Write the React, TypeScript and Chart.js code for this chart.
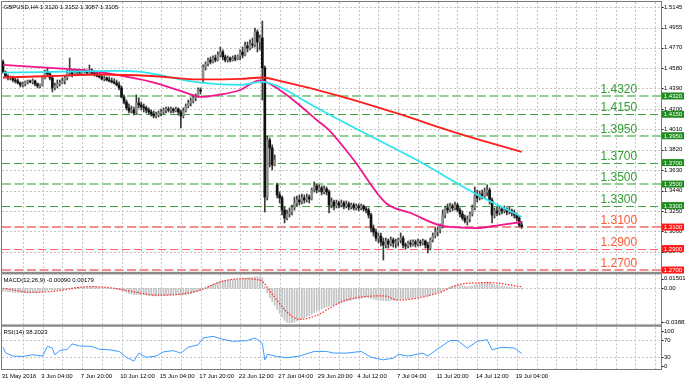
import { useEffect, useRef } from 'react';
import { Chart, registerables } from 'chart.js';
Chart.register(...registerables);

// ---------------- DATA ----------------
const chartTitle = 'GBPUSD,H4 1.3120 1.3152 1.3087 1.3105';
const macdTitle = 'MACD(12,26,9) -0.00090 0.00179';
const rsiTitle = 'RSI(14) 38.2023';

const barOpen = [
  1.4637, 1.4544, 1.4506, 1.4488, 1.4497, 1.4469, 1.4460, 1.4441, 1.4423, 1.4432, 1.4451, 1.4460, 1.4451, 1.4460, 1.4432, 1.4413,
  1.4423, 1.4488, 1.4544, 1.4525, 1.4488, 1.4395, 1.4413, 1.4432, 1.4441, 1.4460, 1.4488, 1.4534, 1.4544, 1.4525, 1.4553, 1.4544,
  1.4534, 1.4544, 1.4553, 1.4534, 1.4562, 1.4534, 1.4525, 1.4506, 1.4497, 1.4479, 1.4488, 1.4469, 1.4460, 1.4451, 1.4441, 1.4423,
  1.4395, 1.4311, 1.4264, 1.4209, 1.4181, 1.4190, 1.4162, 1.4255, 1.4237, 1.4218, 1.4209, 1.4190, 1.4171, 1.4153, 1.4134, 1.4143,
  1.4162, 1.4171, 1.4190, 1.4199, 1.4190, 1.4199, 1.4181, 1.4199, 1.4171, 1.4134, 1.4181, 1.4227, 1.4255, 1.4274, 1.4302, 1.4320,
  1.4376, 1.4469, 1.4590, 1.4618, 1.4655, 1.4637, 1.4674, 1.4655, 1.4702, 1.4730, 1.4683, 1.4655, 1.4674, 1.4655, 1.4674, 1.4665,
  1.4693, 1.4730, 1.4702, 1.4786, 1.4767, 1.4804, 1.4795, 1.4916, 1.4823, 1.4860, 1.4581, 1.3380, 1.3911, 1.3836, 1.3678, 1.3492,
  1.3399, 1.3371, 1.3259, 1.3184, 1.3222, 1.3240, 1.3278, 1.3324, 1.3352, 1.3333, 1.3371, 1.3352, 1.3380, 1.3361, 1.3445, 1.3483,
  1.3445, 1.3464, 1.3427, 1.3455, 1.3427, 1.3305, 1.3333, 1.3296, 1.3324, 1.3305, 1.3324, 1.3296, 1.3315, 1.3287, 1.3305, 1.3278,
  1.3296, 1.3278, 1.3296, 1.3268, 1.3259, 1.3212, 1.3091, 1.3054, 1.2998, 1.3017, 1.2961, 1.2933, 1.2970, 1.2942, 1.2980, 1.2952,
  1.2961, 1.2980, 1.2998, 1.2933, 1.2924, 1.2952, 1.2942, 1.2961, 1.2942, 1.2961, 1.2952, 1.2970, 1.2933, 1.2905, 1.2980, 1.3017,
  1.3054, 1.3073, 1.3110, 1.3212, 1.3278, 1.3259, 1.3296, 1.3278, 1.3305, 1.3259, 1.3222, 1.3184, 1.3156, 1.3175, 1.3222, 1.3278,
  1.3389, 1.3371, 1.3408, 1.3389, 1.3427, 1.3445, 1.3352, 1.3212, 1.3250, 1.3231, 1.3268, 1.3250, 1.3259, 1.3240, 1.3250, 1.3231,
  1.3212, 1.3184, 1.3120,
];
const barHigh = [
  1.4655, 1.4553, 1.4516, 1.4506, 1.4506, 1.4488, 1.4479, 1.4451, 1.4451, 1.4460, 1.4469, 1.4469, 1.4479, 1.4469, 1.4441, 1.4432,
  1.4506, 1.4562, 1.4581, 1.4544, 1.4506, 1.4441, 1.4469, 1.4469, 1.4488, 1.4506, 1.4562, 1.4674, 1.4562, 1.4572, 1.4562, 1.4562,
  1.4562, 1.4572, 1.4562, 1.4609, 1.4572, 1.4553, 1.4544, 1.4534, 1.4516, 1.4506, 1.4497, 1.4497, 1.4488, 1.4479, 1.4469, 1.4451,
  1.4413, 1.4330, 1.4283, 1.4246, 1.4227, 1.4218, 1.4330, 1.4302, 1.4264, 1.4246, 1.4227, 1.4209, 1.4190, 1.4181, 1.4171, 1.4181,
  1.4199, 1.4209, 1.4218, 1.4218, 1.4218, 1.4209, 1.4218, 1.4209, 1.4190, 1.4209, 1.4246, 1.4283, 1.4302, 1.4330, 1.4339, 1.4395,
  1.4395, 1.4609, 1.4637, 1.4674, 1.4683, 1.4693, 1.4702, 1.4730, 1.4776, 1.4749, 1.4702, 1.4693, 1.4683, 1.4693, 1.4702, 1.4702,
  1.4749, 1.4776, 1.4823, 1.4823, 1.4842, 1.4860, 1.4953, 1.4935, 1.4888, 1.5018, 1.4600, 1.3948, 1.3929, 1.3864, 1.3771, 1.3510,
  1.3427, 1.3389, 1.3287, 1.3259, 1.3278, 1.3305, 1.3380, 1.3389, 1.3399, 1.3408, 1.3399, 1.3408, 1.3399, 1.3464, 1.3520, 1.3501,
  1.3492, 1.3483, 1.3483, 1.3473, 1.3445, 1.3371, 1.3352, 1.3352, 1.3343, 1.3352, 1.3343, 1.3343, 1.3333, 1.3324, 1.3324, 1.3315,
  1.3315, 1.3315, 1.3305, 1.3287, 1.3278, 1.3231, 1.3119, 1.3082, 1.3045, 1.3045, 1.2998, 1.2998, 1.2989, 1.3008, 1.2998, 1.2989,
  1.2998, 1.3045, 1.3017, 1.2952, 1.2970, 1.2980, 1.2980, 1.2980, 1.2989, 1.2980, 1.2989, 1.2980, 1.2961, 1.2998, 1.3045, 1.3091,
  1.3101, 1.3129, 1.3259, 1.3296, 1.3315, 1.3324, 1.3315, 1.3333, 1.3324, 1.3278, 1.3250, 1.3212, 1.3203, 1.3240, 1.3305, 1.3473,
  1.3445, 1.3436, 1.3445, 1.3464, 1.3492, 1.3464, 1.3371, 1.3278, 1.3287, 1.3296, 1.3287, 1.3296, 1.3278, 1.3287, 1.3268, 1.3259,
  1.3231, 1.3203, 1.3152,
];
const barLow = [
  1.4534, 1.4497, 1.4469, 1.4469, 1.4451, 1.4441, 1.4432, 1.4404, 1.4404, 1.4413, 1.4432, 1.4441, 1.4432, 1.4413, 1.4395, 1.4395,
  1.4413, 1.4479, 1.4506, 1.4469, 1.4358, 1.4376, 1.4395, 1.4413, 1.4432, 1.4432, 1.4469, 1.4506, 1.4497, 1.4516, 1.4525, 1.4516,
  1.4525, 1.4534, 1.4516, 1.4525, 1.4516, 1.4506, 1.4497, 1.4488, 1.4469, 1.4460, 1.4460, 1.4451, 1.4441, 1.4432, 1.4413, 1.4376,
  1.4302, 1.4246, 1.4190, 1.4162, 1.4162, 1.4143, 1.4153, 1.4209, 1.4190, 1.4171, 1.4162, 1.4153, 1.4134, 1.4116, 1.4116, 1.4125,
  1.4134, 1.4153, 1.4162, 1.4171, 1.4162, 1.4162, 1.4171, 1.4143, 1.4022, 1.4116, 1.4171, 1.4209, 1.4227, 1.4255, 1.4274, 1.4311,
  1.4339, 1.4451, 1.4562, 1.4600, 1.4618, 1.4627, 1.4637, 1.4646, 1.4683, 1.4655, 1.4637, 1.4637, 1.4637, 1.4646, 1.4646, 1.4655,
  1.4655, 1.4674, 1.4693, 1.4730, 1.4749, 1.4767, 1.4776, 1.4730, 1.4749, 1.4283, 1.3240, 1.3352, 1.3659, 1.3631, 1.3669, 1.3371,
  1.3324, 1.3212, 1.3138, 1.3166, 1.3194, 1.3212, 1.3259, 1.3296, 1.3305, 1.3315, 1.3324, 1.3333, 1.3324, 1.3352, 1.3427, 1.3417,
  1.3427, 1.3399, 1.3408, 1.3399, 1.3231, 1.3278, 1.3259, 1.3278, 1.3278, 1.3287, 1.3268, 1.3278, 1.3259, 1.3268, 1.3259, 1.3259,
  1.3250, 1.3259, 1.3250, 1.3231, 1.3184, 1.3054, 1.3017, 1.2970, 1.2952, 1.2924, 1.2793, 1.2905, 1.2905, 1.2924, 1.2914, 1.2905,
  1.2924, 1.2952, 1.2905, 1.2896, 1.2905, 1.2914, 1.2924, 1.2914, 1.2924, 1.2924, 1.2933, 1.2905, 1.2859, 1.2887, 1.2961, 1.2998,
  1.3017, 1.3045, 1.3091, 1.3184, 1.3231, 1.3240, 1.3250, 1.3259, 1.3240, 1.3194, 1.3166, 1.3138, 1.3119, 1.3147, 1.3203, 1.3259,
  1.3333, 1.3352, 1.3361, 1.3371, 1.3389, 1.3315, 1.3138, 1.3184, 1.3203, 1.3212, 1.3222, 1.3231, 1.3212, 1.3222, 1.3203, 1.3184,
  1.3156, 1.3101, 1.3087,
];
const barClose = [
  1.4544, 1.4506, 1.4488, 1.4497, 1.4469, 1.4460, 1.4441, 1.4423, 1.4432, 1.4451, 1.4460, 1.4451, 1.4460, 1.4432, 1.4413, 1.4423,
  1.4488, 1.4544, 1.4525, 1.4488, 1.4395, 1.4413, 1.4432, 1.4441, 1.4460, 1.4488, 1.4534, 1.4544, 1.4525, 1.4553, 1.4544, 1.4534,
  1.4544, 1.4553, 1.4534, 1.4562, 1.4534, 1.4525, 1.4506, 1.4497, 1.4479, 1.4488, 1.4469, 1.4460, 1.4451, 1.4441, 1.4423, 1.4395,
  1.4311, 1.4264, 1.4209, 1.4181, 1.4190, 1.4162, 1.4255, 1.4237, 1.4218, 1.4209, 1.4190, 1.4171, 1.4153, 1.4134, 1.4143, 1.4162,
  1.4171, 1.4190, 1.4199, 1.4190, 1.4199, 1.4181, 1.4199, 1.4171, 1.4134, 1.4181, 1.4227, 1.4255, 1.4274, 1.4302, 1.4320, 1.4376,
  1.4367, 1.4590, 1.4618, 1.4655, 1.4637, 1.4674, 1.4655, 1.4702, 1.4730, 1.4683, 1.4655, 1.4674, 1.4655, 1.4674, 1.4665, 1.4693,
  1.4730, 1.4702, 1.4786, 1.4767, 1.4804, 1.4795, 1.4916, 1.4823, 1.4860, 1.4581, 1.3380, 1.3911, 1.3836, 1.3678, 1.3724, 1.3399,
  1.3371, 1.3259, 1.3184, 1.3222, 1.3240, 1.3278, 1.3324, 1.3352, 1.3333, 1.3371, 1.3352, 1.3380, 1.3361, 1.3445, 1.3483, 1.3445,
  1.3464, 1.3427, 1.3455, 1.3427, 1.3305, 1.3333, 1.3296, 1.3324, 1.3305, 1.3324, 1.3296, 1.3315, 1.3287, 1.3305, 1.3278, 1.3296,
  1.3278, 1.3296, 1.3268, 1.3259, 1.3212, 1.3091, 1.3054, 1.2998, 1.3017, 1.2961, 1.2933, 1.2970, 1.2942, 1.2980, 1.2952, 1.2961,
  1.2980, 1.2998, 1.2933, 1.2924, 1.2952, 1.2942, 1.2961, 1.2942, 1.2961, 1.2952, 1.2970, 1.2933, 1.2905, 1.2980, 1.3017, 1.3054,
  1.3073, 1.3110, 1.3212, 1.3278, 1.3259, 1.3296, 1.3278, 1.3305, 1.3259, 1.3222, 1.3184, 1.3156, 1.3175, 1.3222, 1.3278, 1.3389,
  1.3371, 1.3408, 1.3389, 1.3427, 1.3445, 1.3352, 1.3212, 1.3250, 1.3231, 1.3268, 1.3250, 1.3259, 1.3240, 1.3250, 1.3231, 1.3212,
  1.3184, 1.3119, 1.3105,
];

// moving averages (bar index, value)
const maRedBar = [0, 20, 40, 60, 80, 96, 105, 112, 136, 161, 180, 193, 210];
const maRedVal = [1.4492, 1.4506, 1.4520, 1.4506, 1.4474, 1.4479, 1.4492, 1.4460, 1.4322, 1.4148, 1.4002, 1.3911, 1.3799];
const maCyanBar = [0, 26, 46, 55, 80, 96, 105, 112, 125, 144, 169, 185, 193, 210];
const maCyanVal = [1.4537, 1.4546, 1.4553, 1.4546, 1.4444, 1.4423, 1.4451, 1.4404, 1.4237, 1.4003, 1.3706, 1.3492, 1.3390, 1.3194];
const maPinkBar = [0, 19, 32, 46, 60, 73, 80, 87, 96, 104, 112, 119, 127, 132, 142, 155, 165, 178, 192, 201, 210];
const maPinkVal = [1.4609, 1.4581, 1.4562, 1.4516, 1.4451, 1.4358, 1.4311, 1.4330, 1.4376, 1.4465, 1.4376, 1.4255, 1.4097, 1.4003, 1.3724, 1.3324, 1.3231, 1.3110, 1.3091, 1.3119, 1.3147];

// MACD main (histogram), one per bar
const macdMain = [
  -0.0030, -0.0033, -0.0036, -0.0038, -0.0040, -0.0042, -0.0043, -0.0044, -0.0045, -0.0045, -0.0044, -0.0043, -0.0042, -0.0041, -0.0041, -0.0040,
  -0.0034, -0.0026, -0.0020, -0.0017, -0.0019, -0.0018, -0.0016, -0.0013, -0.0010, -0.0006, 0.0000, 0.0004, 0.0006, 0.0009, 0.0011, 0.0013,
  0.0014, 0.0016, 0.0016, 0.0018, 0.0018, 0.0017, 0.0015, 0.0013, 0.0010, 0.0008, 0.0005, 0.0002, -0.0001, -0.0004, -0.0008, -0.0013,
  -0.0022, -0.0032, -0.0043, -0.0053, -0.0060, -0.0067, -0.0066, -0.0066, -0.0067, -0.0068, -0.0070, -0.0072, -0.0075, -0.0078, -0.0080, -0.0080,
  -0.0080, -0.0078, -0.0076, -0.0074, -0.0072, -0.0071, -0.0069, -0.0069, -0.0072, -0.0071, -0.0067, -0.0062, -0.0056, -0.0049, -0.0041, -0.0031,
  -0.0023, -0.0008, 0.0007, 0.0022, 0.0035, 0.0047, 0.0057, 0.0068, 0.0080, 0.0086, 0.0089, 0.0092, 0.0094, 0.0096, 0.0097, 0.0099,
  0.0103, 0.0105, 0.0110, 0.0113, 0.0117, 0.0119, 0.0125, 0.0124, 0.0125, 0.0117, 0.0020, -0.0048, -0.0100, -0.0142, -0.0180, -0.0225,
  -0.0268, -0.0310, -0.0345, -0.0365, -0.0370, -0.0368, -0.0362, -0.0352, -0.0340, -0.0328, -0.0315, -0.0302, -0.0290, -0.0276, -0.0260, -0.0245,
  -0.0232, -0.0220, -0.0208, -0.0198, -0.0192, -0.0184, -0.0177, -0.0168, -0.0160, -0.0152, -0.0145, -0.0138, -0.0131, -0.0125, -0.0119, -0.0113,
  -0.0108, -0.0104, -0.0100, -0.0098, -0.0099, -0.0108, -0.0114, -0.0121, -0.0125, -0.0128, -0.0132, -0.0132, -0.0131, -0.0129, -0.0127, -0.0124,
  -0.0121, -0.0116, -0.0114, -0.0112, -0.0109, -0.0105, -0.0101, -0.0097, -0.0093, -0.0089, -0.0085, -0.0083, -0.0083, -0.0076, -0.0066, -0.0055,
  -0.0046, -0.0037, -0.0022, -0.0006, 0.0005, 0.0016, 0.0024, 0.0031, 0.0033, 0.0031, 0.0027, 0.0022, 0.0019, 0.0020, 0.0026, 0.0040,
  0.0048, 0.0056, 0.0060, 0.0066, 0.0071, 0.0066, 0.0050, 0.0042, 0.0035, 0.0031, 0.0026, 0.0022, 0.0018, 0.0015, 0.0011, 0.0007,
  0.0003, -0.0003, -0.0009,
];
const macdSignalBar = [0, 12, 22, 35, 43, 53, 62, 72, 80, 88, 96, 104, 109, 115, 120, 127, 134, 138, 154, 160, 176, 185, 197, 210];
const macdSignalVal = [0.0002, -0.0043, -0.0026, 0.0020, 0.0009, -0.0037, -0.0072, -0.0061, -0.0016, 0.0069, 0.0105, 0.0090, -0.0061, -0.0255, -0.0333, -0.0290, -0.0185, -0.0132, -0.0079, -0.0125, -0.0051, 0.0044, 0.0062, 0.0018];

const rsiBar = [0, 1, 4, 8, 12, 16, 18, 20, 21, 23, 26, 28, 31, 36, 39, 43, 47, 50, 53, 55, 58, 62, 65, 69, 72, 75, 79, 81, 85, 89, 93, 99, 102, 104, 105, 106, 107, 111, 115, 120, 126, 131, 134, 139, 145, 149, 154, 158, 160, 164, 170, 172, 176, 181, 184, 188, 192, 196, 198, 202, 207, 210];
const rsiVal = [53, 40, 32, 31, 35, 32, 55, 51, 35, 45, 48, 61, 56, 55, 48, 47, 43, 29, 20, 39, 29, 32, 42, 45, 39, 53, 59, 75, 79, 72, 67, 69, 75, 67, 62, 23, 36, 31, 28, 32, 43, 43, 39, 39, 43, 29, 23, 27, 36, 32, 39, 32, 49, 69, 69, 51, 67, 71, 47, 53, 51, 38.2];

const priceTicks = [1.5145, 1.4955, 1.4770, 1.4580, 1.4390, 1.4200, 1.4010, 1.3820, 1.3630, 1.3440, 1.3250, 1.3060, 1.2870];
const resistanceLevels = [1.4320, 1.4150, 1.3950, 1.3700, 1.3500, 1.3300];
const supportLevels = [1.3100, 1.2900, 1.2700];
const macdTickLabels = ['0.01501', '0.00', '-0.03882'];
const macdTickValues = [0.01501, 0, -0.03882];
const rsiTickValues = [100, 70, 30, 0];
const rsiLevels = [70, 30];
const timeLabels = ['31 May 2016', '3 Jun 04:00', '7 Jun 20:00', '10 Jun 12:00', '15 Jun 04:00', '17 Jun 20:00', '22 Jun 12:00', '27 Jun 04:00', '29 Jun 20:00', '4 Jul 12:00', '7 Jul 04:00', '11 Jul 20:00', '14 Jul 12:00', '19 Jul 04:00'];
const timeLabelBars = [0, 16, 32, 48, 64, 80, 96, 112, 128, 144, 160, 176, 192, 208];

// ---------------- LAYOUT / STYLE ----------------
const W = 685;
const H = 383;
const X_MIN = -0.4;
const X_MAX = 266.4;
const P_MIN = 1.2691;
const P_MAX = 1.5195;
const MACD_MIN = -0.03882;
const MACD_MAX = 0.01501;
const PAD_LR = { left: 2, right: 24 };
const MAIN_AREA = { top: 2, bottom: 271 };
const MACD_AREA = { top: 274.5, bottom: 324.5 };
const RSI_AREA = { top: 327.5, bottom: 369.5 };
const FONT = '"Liberation Sans", Arial, Helvetica, sans-serif';
const GRID = '#c4c4c4';
const FRAME = '#7a7a7a';

function vGrid(chart: any) {
  const { ctx, chartArea: a, scales } = chart;
  const x = scales.x;
  ctx.save();
  ctx.strokeStyle = GRID;
  ctx.lineWidth = 1;
  ctx.setLineDash([2, 2]);
  for (let b = 8; b < X_MAX; b += 8) {
    const px = Math.round(x.getPixelForValue(b)) + 0.5;
    ctx.beginPath();
    ctx.moveTo(px, a.top);
    ctx.lineTo(px, a.bottom);
    ctx.stroke();
  }
  ctx.restore();
}

function hGrid(chart: any, values: number[]) {
  const { ctx, chartArea: a, scales } = chart;
  const y = scales.y;
  ctx.save();
  ctx.strokeStyle = GRID;
  ctx.lineWidth = 1;
  ctx.setLineDash([2, 2]);
  for (const v of values) {
    const py = Math.round(y.getPixelForValue(v)) + 0.5;
    ctx.beginPath();
    ctx.moveTo(a.left, py);
    ctx.lineTo(a.right, py);
    ctx.stroke();
  }
  ctx.restore();
}

function axisText(ctx: any, text: string, py: number) {
  ctx.save();
  ctx.font = `6px ${FONT}`;
  ctx.fillStyle = '#000';
  ctx.textAlign = 'left';
  ctx.textBaseline = 'middle';
  ctx.fillText(text, 664, py);
  ctx.strokeStyle = '#000';
  ctx.lineWidth = 1;
  ctx.beginPath();
  ctx.moveTo(661.5, Math.round(py) + 0.5);
  ctx.lineTo(663.5, Math.round(py) + 0.5);
  ctx.stroke();
  ctx.restore();
}

function panelTitle(ctx: any, text: string, px: number, py: number) {
  ctx.save();
  ctx.font = `6px ${FONT}`;
  ctx.fillStyle = '#000';
  ctx.textAlign = 'left';
  ctx.textBaseline = 'middle';
  ctx.fillText(text, px, py);
  ctx.restore();
}

const levelStyle = (res: boolean, i: number) => {
  const thick = i % 2 === 0;
  if (res) return { color: thick ? '#93cf93' : '#45a545', width: thick ? 2 : 1.2, dash: thick ? [9, 3.5] : [8, 4], text: '#33a033', box: '#1e8c1e' };
  return { color: thick ? '#ef8f8f' : '#ff6464', width: thick ? 2 : 1.2, dash: thick ? [9, 3.5] : [8, 4], text: '#ff5a32', box: '#ff1a1a' };
};

const allLevels = () => [
  ...resistanceLevels.map((v, i) => ({ v, st: levelStyle(true, i) })),
  ...supportLevels.map((v, i) => ({ v, st: levelStyle(false, i) })),
];

const mainPlugin = {
  id: 'mainDeco',
  beforeDatasetsDraw(chart: any) {
    vGrid(chart);
    hGrid(chart, priceTicks);
    const { ctx, chartArea: a, scales } = chart;
    const y = scales.y;
    ctx.save();
    for (const L of allLevels()) {
      const raw = y.getPixelForValue(L.v);
      const py = L.st.width >= 2 ? Math.round(raw) : Math.round(raw) + 0.5;
      ctx.strokeStyle = L.st.color;
      ctx.lineWidth = L.st.width;
      ctx.setLineDash(L.st.dash);
      ctx.beginPath();
      ctx.moveTo(a.left, py);
      ctx.lineTo(a.right, py);
      ctx.stroke();
    }
    ctx.restore();
  },
  afterDatasetsDraw(chart: any) {
    const { ctx, scales } = chart;
    const y = scales.y;
    ctx.save();
    // level captions
    ctx.font = `12px ${FONT}`;
    ctx.textAlign = 'left';
    ctx.textBaseline = 'alphabetic';
    for (const L of allLevels()) {
      ctx.fillStyle = L.st.text;
      ctx.fillText(L.v.toFixed(4), 600.5, y.getPixelForValue(L.v) - 3);
    }
    ctx.restore();
    panelTitle(ctx, chartTitle, 3.5, 7);
    for (const v of priceTicks) axisText(ctx, v.toFixed(4), y.getPixelForValue(v));
    // level boxes on the price axis
    ctx.save();
    for (const L of allLevels()) {
      const py = y.getPixelForValue(L.v);
      ctx.fillStyle = L.st.box;
      ctx.fillRect(662, py - 3.5, 22, 7);
      ctx.fillStyle = '#fff';
      ctx.font = `6px ${FONT}`;
      ctx.textAlign = 'center';
      ctx.textBaseline = 'middle';
      ctx.fillText(L.v.toFixed(4), 673, py + 0.3);
    }
    ctx.restore();
  },
};

const macdPlugin = {
  id: 'macdDeco',
  beforeDatasetsDraw(chart: any) {
    vGrid(chart);
    hGrid(chart, [0]);
  },
  afterDatasetsDraw(chart: any) {
    const { ctx, scales } = chart;
    const y = scales.y;
    panelTitle(ctx, macdTitle, 3.5, 280);
    const pos = [y.getPixelForValue(macdTickValues[0]) + 4, y.getPixelForValue(macdTickValues[1]), y.getPixelForValue(macdTickValues[2]) - 2.5];
    macdTickLabels.forEach((t, i) => axisText(ctx, t, pos[i]));
  },
};

const rsiPlugin = {
  id: 'rsiDeco',
  beforeDatasetsDraw(chart: any) {
    vGrid(chart);
    hGrid(chart, rsiLevels);
  },
  afterDatasetsDraw(chart: any) {
    const { ctx, scales } = chart;
    const y = scales.y;
    const x = scales.x;
    panelTitle(ctx, rsiTitle, 3.5, 332.5);
    const off = [3.5, 0, 0, -3.5];
    rsiTickValues.forEach((v, i) => axisText(ctx, String(v), y.getPixelForValue(v) + off[i]));
    // time labels
    ctx.save();
    ctx.font = `6px ${FONT}`;
    ctx.fillStyle = '#000';
    ctx.textAlign = 'left';
    ctx.textBaseline = 'middle';
    timeLabels.forEach((t, i) => {
      const px = x.getPixelForValue(timeLabelBars[i]);
      ctx.fillText(t, px - 1.3, 376.5);
    });
    ctx.restore();
    // frames & separators
    ctx.save();
    ctx.strokeStyle = FRAME;
    ctx.lineWidth = 1;
    ctx.strokeRect(1.5, 1.5, 660, 368);
    ctx.fillStyle = '#8a8a8a';
    ctx.fillRect(1, 271.8, 661, 2.6);
    ctx.fillRect(1, 324.4, 661, 2.4);
    ctx.restore();
  },
};

const baseOptions = (area: { top: number; bottom: number }, yMin: number, yMax: number) => ({
  animation: false as const,
  responsive: false,
  maintainAspectRatio: false,
  events: [] as any[],
  layout: { padding: { left: PAD_LR.left, right: PAD_LR.right, top: area.top, bottom: H - area.bottom } },
  plugins: { legend: { display: false }, tooltip: { enabled: false } },
  scales: {
    x: { type: 'linear' as const, min: X_MIN, max: X_MAX, display: false, offset: false },
    y: { type: 'linear' as const, min: yMin, max: yMax, display: false },
  },
});

export default function App() {
  const mainRef = useRef<HTMLCanvasElement>(null);
  const macdRef = useRef<HTMLCanvasElement>(null);
  const rsiRef = useRef<HTMLCanvasElement>(null);

  useEffect(() => {
    const idx = barOpen.map((_, i) => i);
    const pts = (bars: number[], vals: number[]) => bars.map((b, i) => ({ x: b, y: vals[i] }));
    const maLine = (bars: number[], vals: number[], color: string) => ({
      type: 'line' as const,
      data: pts(bars, vals),
      borderColor: color,
      borderWidth: 1.8,
      pointRadius: 0,
      cubicInterpolationMode: 'monotone' as const,
      fill: false,
      order: 0,
    });

    const main = new Chart(mainRef.current!, {
      type: 'bar',
      data: {
        datasets: [
          maLine(maRedBar, maRedVal, '#ff1c1c') as any,
          maLine(maCyanBar, maCyanVal, '#2fe4ee') as any,
          maLine(maPinkBar, maPinkVal, '#f0178c') as any,
          {
            type: 'bar',
            data: idx.map((i) => ({ x: i, y: [barOpen[i], barClose[i]] })),
            backgroundColor: idx.map((i) => (barClose[i] >= barOpen[i] ? '#8e8e8e' : '#111111')),
            barThickness: 2,
            grouped: false,
            order: 1,
          },
          {
            type: 'bar',
            data: idx.map((i) => ({ x: i, y: [barLow[i], barHigh[i]] })),
            backgroundColor: '#3c3c3c',
            barThickness: 1,
            grouped: false,
            order: 2,
          },
        ],
      },
      options: baseOptions(MAIN_AREA, P_MIN, P_MAX) as any,
      plugins: [mainPlugin],
    });

    const macd = new Chart(macdRef.current!, {
      type: 'bar',
      data: {
        datasets: [
          {
            type: 'line',
            data: pts(macdSignalBar, macdSignalVal),
            borderColor: '#ff2a2a',
            borderWidth: 1.2,
            borderDash: [1.5, 1.5],
            pointRadius: 0,
            cubicInterpolationMode: 'monotone',
            order: 0,
          } as any,
          {
            type: 'bar',
            data: idx.map((i) => ({ x: i, y: macdMain[i] })),
            backgroundColor: '#c2c2c2',
            barThickness: 1,
            grouped: false,
            order: 1,
          },
        ],
      },
      options: baseOptions(MACD_AREA, MACD_MIN, MACD_MAX) as any,
      plugins: [macdPlugin],
    });

    const rsi = new Chart(rsiRef.current!, {
      type: 'line',
      data: {
        datasets: [
          {
            data: pts(rsiBar, rsiVal),
            borderColor: '#3c9cff',
            borderWidth: 1,
            pointRadius: 0,
            tension: 0,
          },
        ],
      },
      options: baseOptions(RSI_AREA, 0, 100) as any,
      plugins: [rsiPlugin],
    });

    return () => {
      main.destroy();
      macd.destroy();
      rsi.destroy();
    };
  }, []);

  const cv = { position: 'absolute' as const, left: 0, top: 0 };
  return (
    <div style={{ position: 'absolute', left: 0, top: 0, width: W, height: H, background: '#fff', overflow: 'hidden' }}>
      <canvas ref={mainRef} width={W} height={H} style={cv} />
      <canvas ref={macdRef} width={W} height={H} style={cv} />
      <canvas ref={rsiRef} width={W} height={H} style={cv} />
    </div>
  );
}
